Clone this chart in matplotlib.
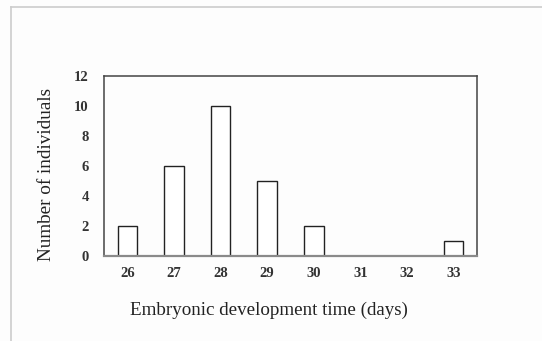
import matplotlib
matplotlib.use("Agg")
import matplotlib.pyplot as plt
from matplotlib.lines import Line2D

days = ["26", "27", "28", "29", "30", "31", "32", "33"]
counts = [2, 6, 10, 5, 2, 0, 0, 1]
y_ticks = [0, 2, 4, 6, 8, 10, 12]

plt.rcParams['font.family'] = ['Liberation Serif', 'DejaVu Serif']

fig = plt.figure(figsize=(5.42, 3.41), dpi=100)
fig.patch.set_facecolor('#fdfdfd')
ax = fig.add_axes([104/542, 1-255.7/341, (477-104)/542, (255.7-75.7)/341])
ax.set_facecolor('#fdfdfd')

x = list(range(len(days)))
ax.bar(x, counts, width=0.42, color='white', edgecolor='#222222', linewidth=1.0, zorder=2)
ax.set_xlim(-0.5, len(days) - 0.5)
ax.set_ylim(0, 12)
ax.set_xticks(x)
ax.set_xticklabels(days, fontsize=10.5, fontweight='bold', color='#333333')
ax.set_yticks(y_ticks)
ax.set_yticklabels([str(v) for v in y_ticks], fontsize=10.5, fontweight='bold', color='#333333')
ax.tick_params(axis='both', length=0)
ax.tick_params(axis='x', pad=8)
ax.tick_params(axis='y', pad=11)
for s in ['top', 'right', 'left']:
    ax.spines[s].set_color('#444444')
    ax.spines[s].set_linewidth(1.1)
ax.spines['bottom'].set_color('#8a8a8a')
ax.spines['bottom'].set_linewidth(1.6)

fig.text(269/542, 1-310/341, "Embryonic development time (days)", ha='center', va='center',
         fontsize=13.7, color='#222222')
fig.text(47/542, 1-174/341, "Number of individuals", ha='center', va='center',
         rotation=90, fontsize=13.8, color='#222222')

# light grey page border lines (top and left)
fig.add_artist(Line2D([11/542, 1], [1-7/341, 1-7/341], transform=fig.transFigure,
                      color='#cccccc', linewidth=1.2))
fig.add_artist(Line2D([11/542, 11/542], [0, 1-7/341], transform=fig.transFigure,
                      color='#cccccc', linewidth=1.2))

fig.savefig("out.png", dpi=100, facecolor=fig.get_facecolor())
